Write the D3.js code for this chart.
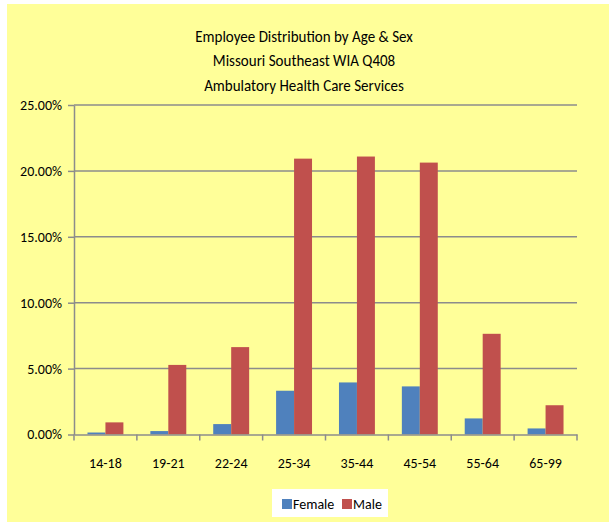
<!DOCTYPE html>
<html><head><meta charset="utf-8">
<script src="https://cdn.jsdelivr.net/npm/d3@7"></script>
<style>body{margin:0;background:#fff;}svg{display:block;}</style>
</head><body>
<script>
const categories = ["14-18","19-21","22-24","25-34","35-44","45-54","55-64","65-99"];
const female = [0.0015,0.0026,0.0079,0.0332,0.0395,0.0365,0.0122,0.0046];
const male = [0.0092,0.0528,0.0663,0.2093,0.2109,0.2063,0.0764,0.0222];
const seriesNames = ["Female","Male"];
const seriesColors = ["#4F81BD","#C0504D"];
const yTicks = [0,0.05,0.10,0.15,0.20,0.25];
const titleLines = ["Employee Distribution by Age & Sex","Missouri Southeast WIA Q408","Ambulatory Health Care Services"];

const W=609,H=522;
const font = "Carlito,'Liberation Sans Narrow',sans-serif";
const svg=d3.select("body").append("svg").attr("width",W).attr("height",H);
svg.append("rect").attr("x",7).attr("y",4).attr("width",W-7).attr("height",H-4).attr("fill","#FFFF99");

const m={l:74,r:577,t:105,b:434.5};
const x=d3.scaleBand().domain(categories).range([m.l,m.r]).paddingInner(0).paddingOuter(0);
const y=d3.scaleLinear().domain([0,0.25]).range([m.b,m.t]);
const bw = x.bandwidth()/3.5;
const x1=d3.scaleBand().domain(seriesNames).range([0,2*bw]);

// title (slightly condensed like the reference)
svg.append("g").attr("transform","translate(304,0) scale(0.91,1)")
 .selectAll("text").data(titleLines).join("text")
 .attr("x",0).attr("y",(d,i)=>42+i*24.5).attr("text-anchor","middle")
 .attr("font-family",font).attr("font-size",16.5).attr("fill","#000").text(d=>d);

// gridlines
svg.append("g").selectAll("line").data(yTicks.slice(1)).join("line")
 .attr("x1",m.l).attr("x2",m.r).attr("y1",d=>y(d)).attr("y2",d=>y(d))
 .attr("stroke","#8C8C8C").attr("stroke-width",1.5);

// y axis
const yAxis=svg.append("g").attr("transform",`translate(${m.l},0)`)
 .call(d3.axisLeft(y).tickValues(yTicks).tickFormat(d3.format(".2%")).tickSizeInner(6).tickSizeOuter(0).tickPadding(6));
yAxis.select(".domain").attr("stroke","#8C8C8C").attr("stroke-width",1.5);
yAxis.selectAll(".tick line").attr("stroke","#8C8C8C").attr("stroke-width",1.5);
yAxis.selectAll("text").attr("font-family",font).attr("font-size",14).attr("fill","#000");

// bars
const groups=svg.append("g").selectAll("g").data(categories).join("g")
 .attr("transform",d=>`translate(${x(d)+x.bandwidth()/2-bw},0)`);
groups.selectAll("rect").data((d,i)=>[female[i],male[i]].map((v,j)=>({v,s:seriesNames[j],c:seriesColors[j]})))
 .join("rect").attr("x",d=>x1(d.s)).attr("width",bw).attr("y",d=>y(d.v)).attr("height",d=>y(0)-y(d.v))
 .attr("fill",d=>d.c);

// x axis
const xAxis=svg.append("g").attr("transform",`translate(0,${m.b})`)
 .call(d3.axisBottom(x).tickSize(0).tickPadding(24));
xAxis.select(".domain").attr("stroke","#8C8C8C").attr("stroke-width",1.5);
xAxis.selectAll("text").attr("font-family",font).attr("font-size",14).attr("fill","#000");
const bounds=categories.map(c=>x(c)).concat([m.r]);
svg.append("g").selectAll("line").data(bounds).join("line")
 .attr("x1",d=>d).attr("x2",d=>d).attr("y1",m.b).attr("y2",m.b+6)
 .attr("stroke","#8C8C8C").attr("stroke-width",1.5);

// legend
const lg=svg.append("g");
lg.append("rect").attr("x",272).attr("y",489).attr("width",116).attr("height",28).attr("fill","#fff");
const items=[{n:"Female",c:seriesColors[0],x:282},{n:"Male",c:seriesColors[1],x:342}];
items.forEach(it=>{
  lg.append("rect").attr("x",it.x).attr("y",499).attr("width",10).attr("height",10).attr("fill",it.c);
  lg.append("text").attr("x",it.x+11).attr("y",509).attr("font-family",font).attr("font-size",14).attr("fill","#000").text(it.n);
});
</script>
</body></html>
